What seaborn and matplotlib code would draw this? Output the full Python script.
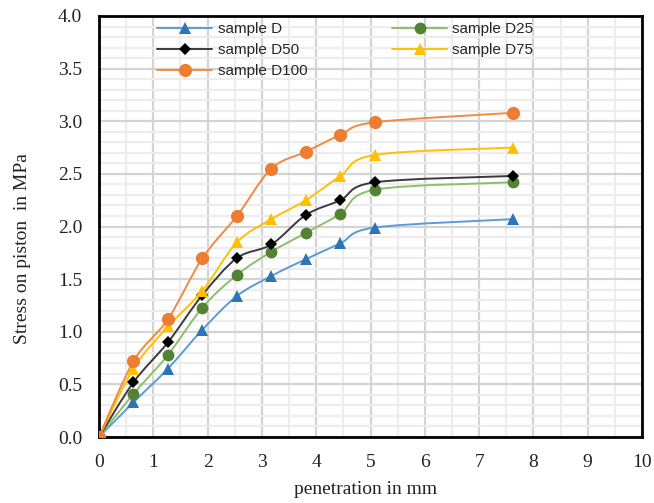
import numpy as np
import pandas as pd
import matplotlib
matplotlib.use("Agg")
import matplotlib.pyplot as plt
import seaborn as sns
from matplotlib.path import Path
from matplotlib.patches import PathPatch
from matplotlib.lines import Line2D
from matplotlib.ticker import MultipleLocator

# CBR penetration readings (mm) and stress on piston (MPa)
penetration = [0, 0.635, 1.27, 1.905, 2.54, 3.175, 3.81, 4.445, 5.08, 7.62]
stress_D = [0, 0.33, 0.65, 1.02, 1.34, 1.53, 1.69, 1.84, 1.99, 2.07]
stress_D25 = [0, 0.41, 0.78, 1.23, 1.54, 1.76, 1.94, 2.12, 2.35, 2.42]
stress_D50 = [0, 0.52, 0.90, 1.35, 1.70, 1.83, 2.11, 2.25, 2.42, 2.48]
stress_D75 = [0, 0.65, 1.05, 1.39, 1.85, 2.07, 2.25, 2.48, 2.68, 2.75]
stress_D100 = [0, 0.72, 1.12, 1.70, 2.10, 2.55, 2.71, 2.87, 2.99, 3.08]

series_names = ["sample D", "sample D25", "sample D50", "sample D75", "sample D100"]
series_values = [stress_D, stress_D25, stress_D50, stress_D75, stress_D100]

x_ticks = list(range(0, 11))
y_ticks = [0.0, 0.5, 1.0, 1.5, 2.0, 2.5, 3.0, 3.5, 4.0]

styles = {
    "sample D":    dict(line="#5B9BD5", face="#2E75B6", marker="^", ms=8.5),
    "sample D25":  dict(line="#8DBE6B", face="#548235", marker="o", ms=8.5),
    "sample D50":  dict(line="#3A3A3A", face="#000000", marker="D", ms=6.5),
    "sample D75":  dict(line="#FFC000", face="#FFC000", marker="^", ms=8.5),
    "sample D100": dict(line="#F08A45", face="#ED7D31", marker="o", ms=9.5),
}

df = pd.concat(
    [pd.DataFrame({"penetration": penetration, "stress": vals, "sample": name})
     for name, vals in zip(series_names, series_values)],
    ignore_index=True,
)

sns.set_theme(style="white")
plt.rcParams["font.family"] = ["Liberation Serif", "DejaVu Serif"]

fig = plt.figure(figsize=(6.54, 5.03), dpi=100)
ax = fig.add_axes([0.1514, 0.1312, 0.8303, 0.8370])


def smooth_path(xs, ys):
    """Cubic Bezier path through the points (Catmull-Rom style tangents)."""
    pts = np.column_stack([xs, ys]).astype(float)
    n = len(pts)
    verts = [pts[0]]
    codes = [Path.MOVETO]
    for i in range(n - 1):
        p0 = pts[i - 1] if i > 0 else pts[i]
        p1 = pts[i]
        p2 = pts[i + 1]
        p3 = pts[i + 2] if i + 2 < n else pts[i + 1]
        c1 = p1 + (p2 - p0) / 6.0
        c2 = p2 - (p3 - p1) / 6.0
        verts.extend([c1, c2, p2])
        codes.extend([Path.CURVE4] * 3)
    return Path(verts, codes)


# smoothed connecting curves
for name in series_names:
    sub = df[df["sample"] == name]
    st = styles[name]
    patch = PathPatch(smooth_path(sub["penetration"], sub["stress"]),
                      facecolor="none", edgecolor=st["line"], lw=1.4, zorder=3)
    ax.add_patch(patch)

# markers through seaborn
for name in series_names:
    sub = df[df["sample"] == name]
    st = styles[name]
    sns.lineplot(data=sub, x="penetration", y="stress", ax=ax,
                 linestyle="", marker=st["marker"], markersize=st["ms"],
                 color=st["face"], markeredgecolor=st["face"],
                 markeredgewidth=0, zorder=4, legend=False)

ax.set_xlim(0, 10)
ax.set_ylim(0, 4)
ax.set_xticks(x_ticks)
ax.set_yticks(y_ticks)
ax.set_xticklabels([str(t) for t in x_ticks])
ax.set_yticklabels([f"{t:.1f}" for t in y_ticks])
ax.xaxis.set_minor_locator(MultipleLocator(0.5))
ax.yaxis.set_minor_locator(MultipleLocator(0.1))

ax.grid(which="major", color="#D4D4D4", lw=1.6, zorder=0)
ax.grid(which="minor", color="#EDEDED", lw=1.6, zorder=0)
ax.set_axisbelow(True)

ax.tick_params(which="both", length=0)
ax.tick_params(axis="both", which="major", labelsize=14, pad=12, colors="#222222")

for sp in ax.spines.values():
    sp.set_color("black")
    sp.set_linewidth(2.0)
    sp.set_visible(True)

ax.set_xlabel("penetration in mm", fontsize=14, color="#222222")
ax.set_ylabel("Stress on piston  in MPa", fontsize=14, color="#222222")
ax.xaxis.set_label_coords(0.49, -0.104)
ax.yaxis.set_label_coords(-0.125, 0.447)

# legend: two columns, no frame
order = ["sample D", "sample D50", "sample D100", "sample D25", "sample D75"]
handles = [Line2D([0], [0], color=styles[n]["line"], lw=1.4,
                  marker=styles[n]["marker"], markersize=styles[n]["ms"],
                  markerfacecolor=styles[n]["face"], markeredgewidth=0)
           for n in order]
leg = ax.legend(handles, order, ncol=2, loc="upper left",
                bbox_to_anchor=(0.082, 1.018), frameon=False,
                handlelength=3.6, handletextpad=0.35, columnspacing=5.55,
                labelspacing=0.45,
                prop={"family": ["Liberation Sans", "DejaVu Sans"], "size": 11})

fig.savefig("out.png", dpi=100, facecolor="white")
